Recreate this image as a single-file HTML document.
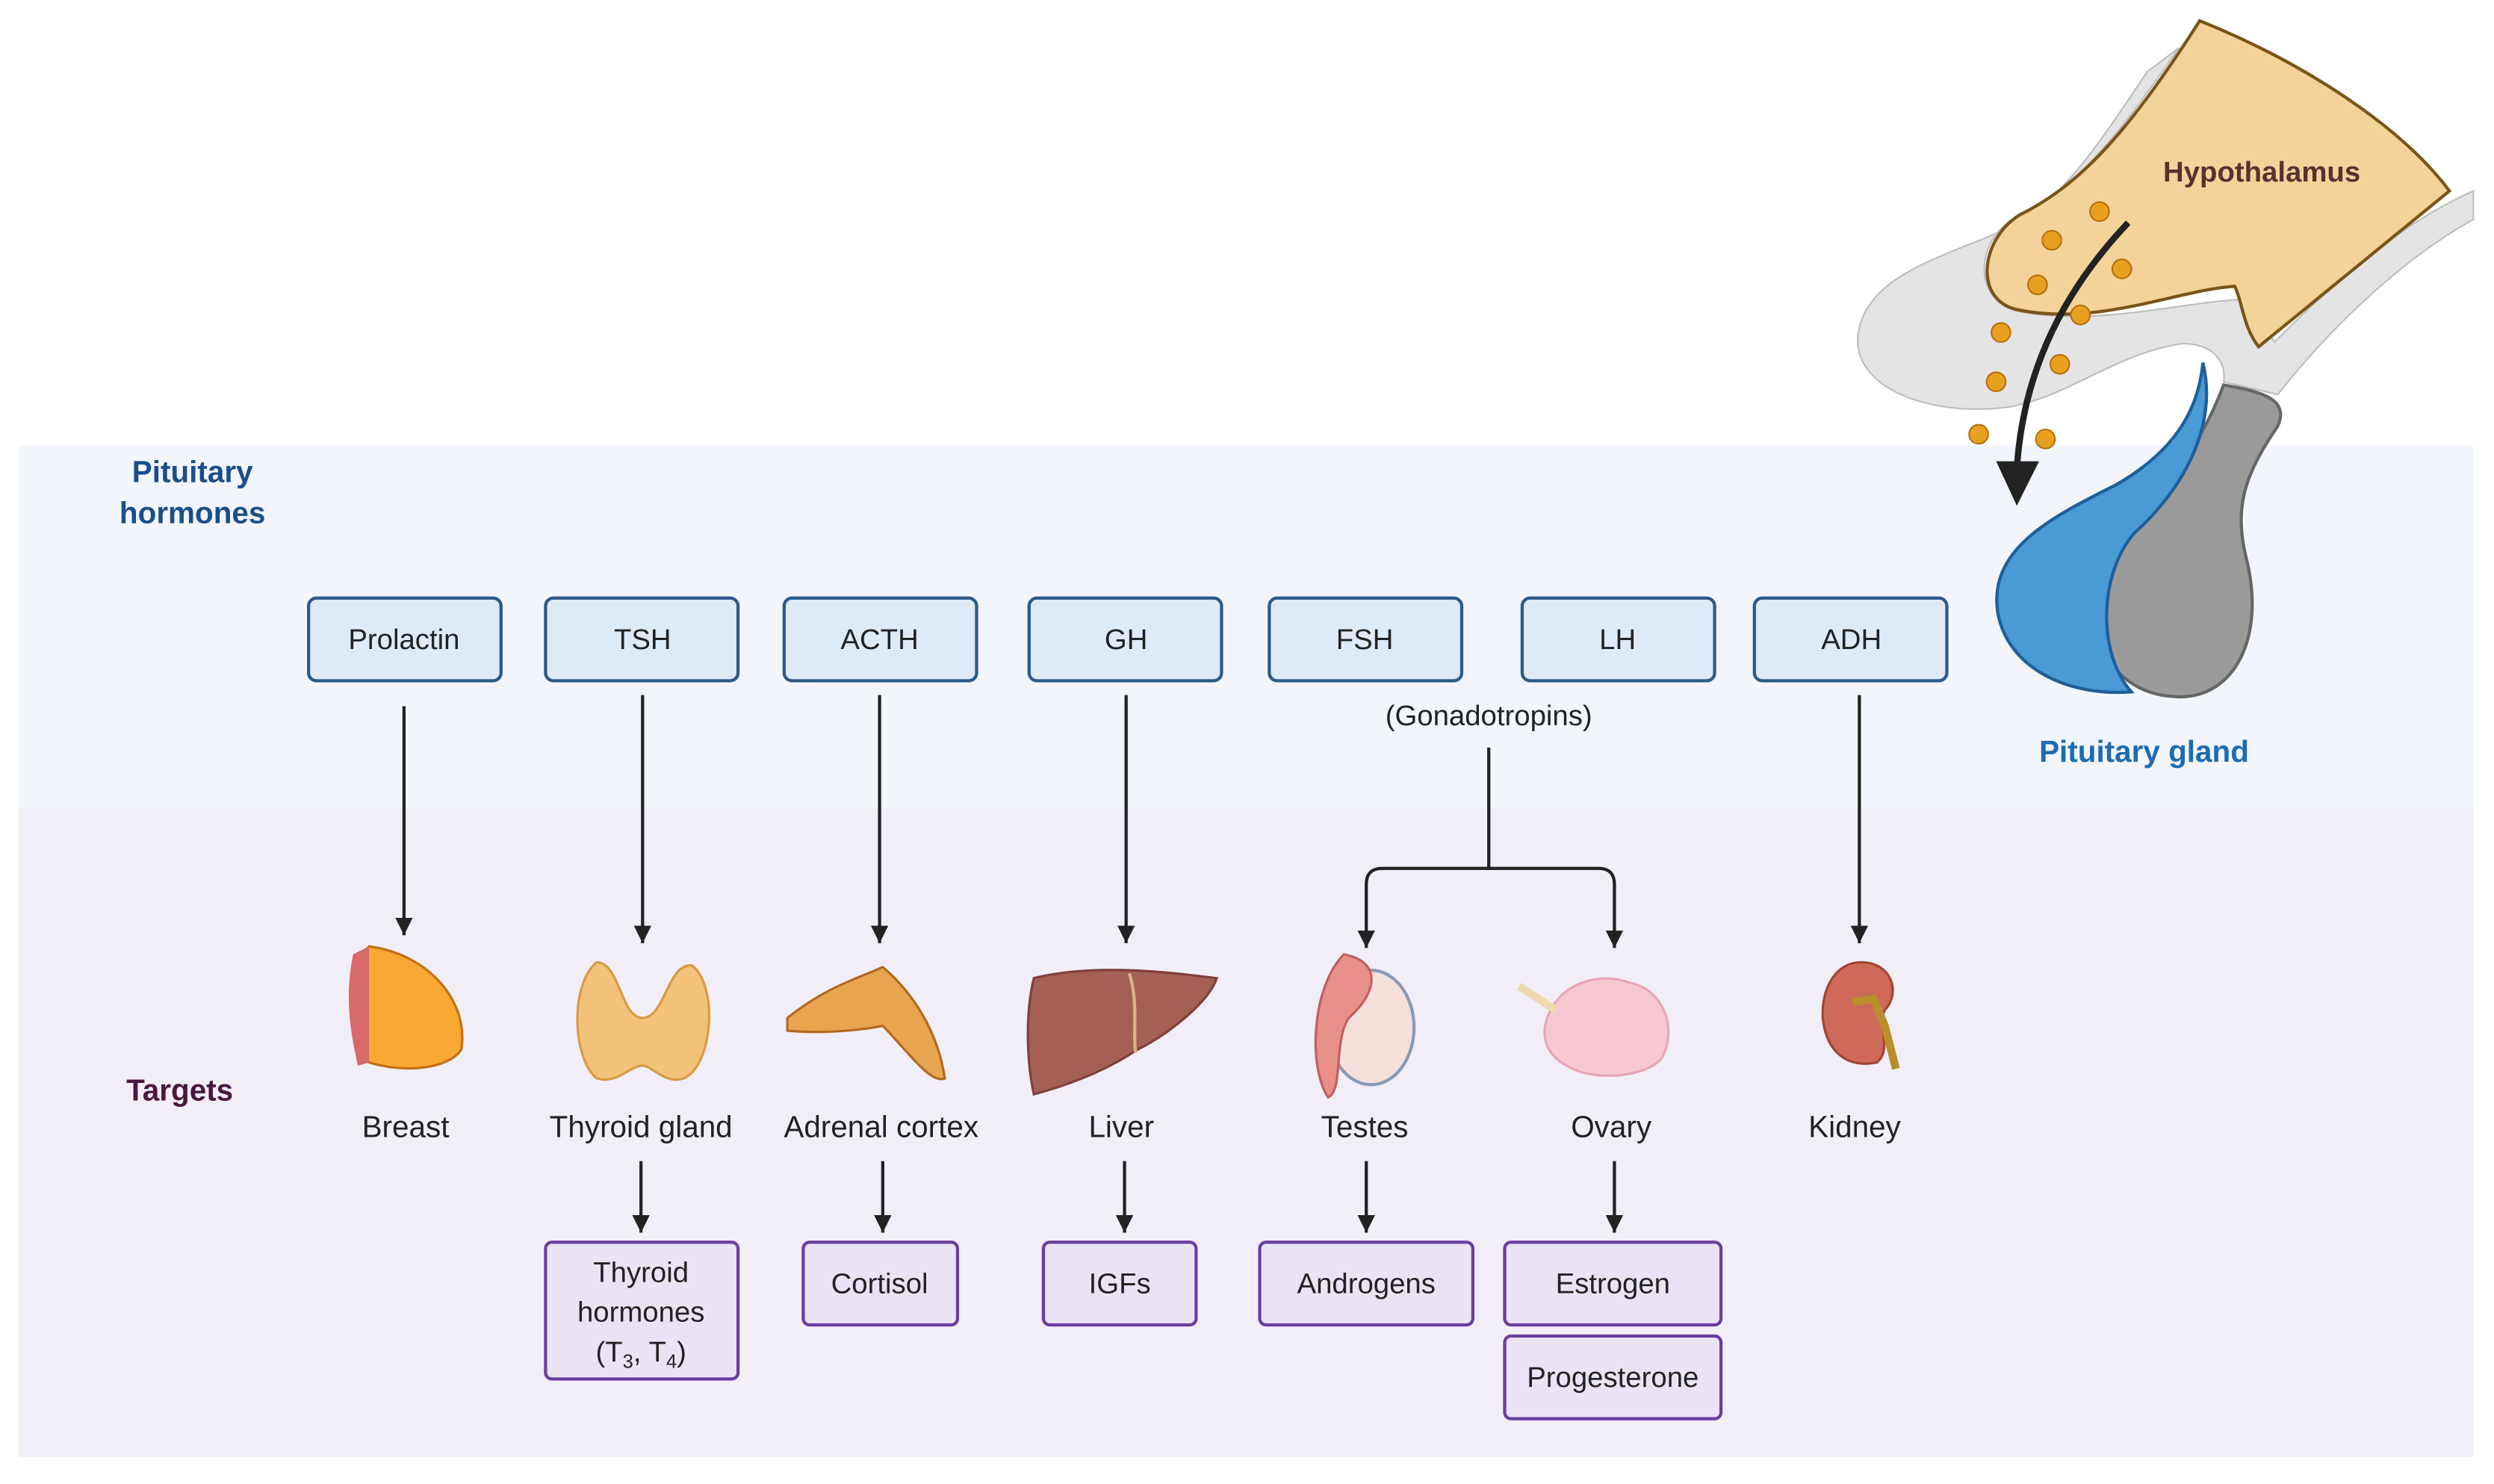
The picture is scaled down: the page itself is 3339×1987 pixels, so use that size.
<!DOCTYPE html>
<html><head><meta charset="utf-8"><style>html,body{margin:0;padding:0;background:#fff}svg{display:block}text{font-family:"Liberation Sans",sans-serif}</style></head>
<body>
<svg width="3339" height="1987" viewBox="0 0 1568 933" xmlns="http://www.w3.org/2000/svg">
<defs>
<marker id="ah" viewBox="0 0 12 12" refX="12" refY="6" markerWidth="11" markerHeight="11" orient="auto" markerUnits="userSpaceOnUse"><path d="M0,0 L12,6 L0,12 z" fill="#222"/></marker>
</defs>
<rect width="1568" height="933" fill="#fff"/>
<rect x="12" y="280" width="1543" height="228" fill="#f2f6fc"/>
<rect x="12" y="508" width="1543" height="408" fill="#f2eef8"/>

<text x="121" y="303" font-size="19" font-weight="bold" fill="#1b4e8a" text-anchor="middle">Pituitary</text>
<text x="121" y="329" font-size="19" font-weight="bold" fill="#1b4e8a" text-anchor="middle">hormones</text>
<text x="113" y="692" font-size="19" font-weight="bold" fill="#4a1740" text-anchor="middle">Targets</text>

<!-- hypothalamus / pituitary -->
<path d="M1350,45 C1320,90 1300,120 1270,140 C1230,160 1172,170 1168,212 C1166,245 1215,262 1262,256 C1300,250 1330,222 1372,216 C1392,216 1400,228 1398,240 L1432,248 C1470,200 1515,160 1555,138 L1555,120 C1510,140 1470,175 1430,215 L1412,188 C1370,190 1320,205 1270,196 C1240,190 1240,150 1270,135 C1310,115 1335,80 1370,30 Z" fill="#e4e4e4" stroke="#bdbdbd" stroke-width="1"/>
<path d="M1383,13 C1450,40 1510,80 1540,120 L1420,218 C1410,205 1410,190 1405,180 C1370,182 1320,205 1270,195 C1240,190 1245,150 1270,135 C1310,115 1340,80 1383,13 Z" fill="#f4d39a" stroke="#7a5518" stroke-width="2"/>
<path d="M1398,242 C1420,246 1440,250 1432,268 C1410,300 1405,320 1412,350 C1425,400 1405,440 1368,438 C1320,436 1305,385 1330,345 C1355,310 1380,290 1398,242 Z" fill="#9a9a9a" stroke="#666" stroke-width="2"/>
<path d="M1385,228 C1395,270 1370,310 1342,335 C1320,360 1318,410 1340,435 C1300,438 1262,420 1256,385 C1250,345 1290,325 1330,305 C1365,285 1382,260 1385,228 Z" fill="#4a9ad6" stroke="#1f5f99" stroke-width="2"/>
<g fill="#e8a020" stroke="#b7700e" stroke-width="1">
<circle cx="1320" cy="133" r="6"/><circle cx="1290" cy="151" r="6"/><circle cx="1334" cy="169" r="6"/><circle cx="1281" cy="179" r="6"/><circle cx="1308" cy="198" r="6"/><circle cx="1258" cy="209" r="6"/><circle cx="1295" cy="229" r="6"/><circle cx="1255" cy="240" r="6"/><circle cx="1244" cy="273" r="6"/><circle cx="1286" cy="276" r="6"/>
</g>
<path d="M1338,140 C1300,180 1272,230 1268,295" fill="none" stroke="#222" stroke-width="4"/>
<path d="M1255,290 L1282,290 L1268,318 Z" fill="#222"/>
<text x="1422" y="114" font-size="18" font-weight="bold" fill="#5a3030" text-anchor="middle">Hypothalamus</text>
<text x="1348" y="479" font-size="19" font-weight="bold" fill="#1e6bb0" text-anchor="middle">Pituitary gland</text>

<!-- hormone boxes -->
<g fill="#dfeaf7" stroke="#2c5a8a" stroke-width="2">
<rect x="194" y="376" width="121" height="52" rx="5"/><rect x="343" y="376" width="121" height="52" rx="5"/><rect x="493" y="376" width="121" height="52" rx="5"/><rect x="647" y="376" width="121" height="52" rx="5"/><rect x="798" y="376" width="121" height="52" rx="5"/><rect x="957" y="376" width="121" height="52" rx="5"/><rect x="1103" y="376" width="121" height="52" rx="5"/>
</g>
<g font-size="18" fill="#222" text-anchor="middle">
<text x="254" y="408">Prolactin</text><text x="404" y="408">TSH</text><text x="553" y="408">ACTH</text><text x="708" y="408">GH</text><text x="858" y="408">FSH</text><text x="1017" y="408">LH</text><text x="1164" y="408">ADH</text>
<text x="936" y="456">(Gonadotropins)</text>
</g>

<g stroke="#222" stroke-width="2" fill="none" marker-end="url(#ah)">
<line x1="254" y1="444" x2="254" y2="588"/><line x1="404" y1="437" x2="404" y2="593"/><line x1="553" y1="437" x2="553" y2="593"/><line x1="708" y1="437" x2="708" y2="593"/><line x1="1169" y1="437" x2="1169" y2="593"/>
<path d="M936,470 L936,546 L869,546 Q859,546 859,556 L859,596"/>
<path d="M936,546 L1005,546 Q1015,546 1015,556 L1015,596"/>
<line x1="403" y1="730" x2="403" y2="775"/><line x1="555" y1="730" x2="555" y2="775"/><line x1="707" y1="730" x2="707" y2="775"/><line x1="859" y1="730" x2="859" y2="775"/><line x1="1015" y1="730" x2="1015" y2="775"/>
</g>

<!-- organs -->
<path d="M232,595 C270,600 295,630 290,660 C282,672 255,675 232,668 L225,655 C218,640 220,610 232,595Z" fill="#f7a832" stroke="#c07015" stroke-width="1.5"/>
<path d="M222,600 L232,595 L232,668 L225,670 C218,640 218,620 222,600Z" fill="#d86a6a"/>
<path d="M375,605 C390,605 390,640 404,640 C418,640 420,605 435,607 C452,620 448,670 430,678 C418,682 410,670 404,670 C396,670 388,682 375,678 C360,665 358,620 375,605Z" fill="#f2c27a" stroke="#d89a45" stroke-width="1.5"/>
<path d="M495,640 C520,620 540,615 555,608 C575,625 590,650 594,678 C585,682 570,660 555,645 C540,648 515,650 495,648Z" fill="#e8a550" stroke="#b06a20" stroke-width="1.5"/>
<path d="M650,615 C690,605 740,612 765,615 C760,630 735,650 715,660 C700,670 680,680 650,688 C645,665 645,635 650,615Z" fill="#a56055" stroke="#804038" stroke-width="1.5"/>
<path d="M710,612 C716,630 712,650 714,662" stroke="#d9b28a" stroke-width="2" fill="none"/>
<ellipse cx="862" cy="646" rx="27" ry="36" fill="#f6e0dc" stroke="#8a9ab5" stroke-width="2"/>
<path d="M845,600 C870,605 865,625 848,640 C838,655 845,685 835,690 C822,670 825,620 845,600Z" fill="#e8908a" stroke="#c06060" stroke-width="1.5"/>
<path d="M975,635 C985,615 1010,612 1025,618 C1045,622 1055,645 1045,665 C1035,678 1000,680 985,670 C970,662 968,648 975,635Z" fill="#f6c8d2" stroke="#e6a6b4" stroke-width="1.5"/>
<path d="M955,620 L978,635" stroke="#f0d8b0" stroke-width="5"/>
<path d="M1170,605 C1190,605 1195,625 1185,635 C1180,645 1190,660 1180,668 C1160,672 1148,660 1146,640 C1145,620 1155,605 1170,605Z" fill="#cf6a5a" stroke="#a04535" stroke-width="1.5"/>
<path d="M1165,630 L1178,628 L1185,645 L1192,672" stroke="#b8902a" stroke-width="5" fill="none"/>

<g font-size="19" fill="#222" text-anchor="middle">
<text x="255" y="715">Breast</text><text x="403" y="715">Thyroid gland</text><text x="554" y="715">Adrenal cortex</text><text x="705" y="715">Liver</text><text x="858" y="715">Testes</text><text x="1013" y="715">Ovary</text><text x="1166" y="715">Kidney</text>
</g>

<!-- products -->
<g fill="#e9e3f3" stroke="#6a3fa0" stroke-width="2">
<rect x="343" y="781" width="121" height="86" rx="4"/><rect x="505" y="781" width="97" height="52" rx="4"/><rect x="656" y="781" width="96" height="52" rx="4"/><rect x="792" y="781" width="134" height="52" rx="4"/><rect x="946" y="781" width="136" height="52" rx="4"/><rect x="946" y="840" width="136" height="52" rx="4"/>
</g>
<g font-size="18" fill="#222" text-anchor="middle">
<text x="403" y="806">Thyroid</text><text x="403" y="831">hormones</text><text x="403" y="856">(T<tspan font-size="12" dy="4">3</tspan><tspan dy="-4">, T</tspan><tspan font-size="12" dy="4">4</tspan><tspan dy="-4">)</tspan></text>
<text x="553" y="813">Cortisol</text><text x="704" y="813">IGFs</text><text x="859" y="813">Androgens</text><text x="1014" y="813">Estrogen</text><text x="1014" y="872">Progesterone</text>
</g>
</svg>
</body></html>
